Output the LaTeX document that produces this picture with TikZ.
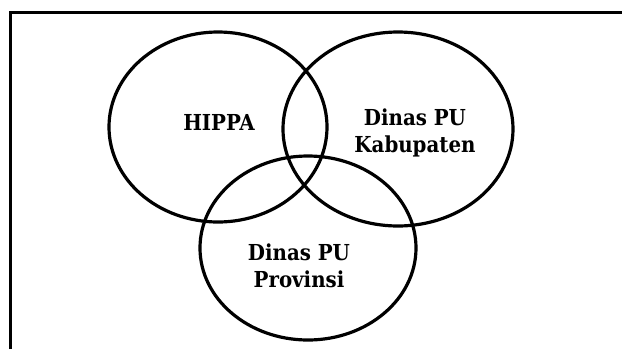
\documentclass[tikz,border=0pt]{standalone}
\usepackage{fontspec}
\setmainfont{DejaVu Serif Condensed}
\begin{document}
\begin{tikzpicture}[x=1pt,y=-1pt,
  ring/.style={line width=3.2pt},
  lbl/.style={font=\bfseries\fontsize{22}{27}\selectfont, align=center, inner sep=0pt}]
\useasboundingbox (0,0) rectangle (622,349);
\draw[line width=3.2pt] (10.5,349) -- (10.5,12.5) -- (622,12.5);
\draw[ring] (218,127) ellipse [x radius=109, y radius=95];
\draw[ring] (398,129) ellipse [x radius=115, y radius=97];
\draw[ring] (308,248) ellipse [x radius=108, y radius=92];
\node[lbl] (hippa) at (219,122) {HIPPA};
\node[lbl] (kab) at (415,133) {Dinas PU\\Kabupaten};
\node[lbl] (prov) at (299,266) {Dinas PU\\Provinsi};
\end{tikzpicture}
\end{document}
